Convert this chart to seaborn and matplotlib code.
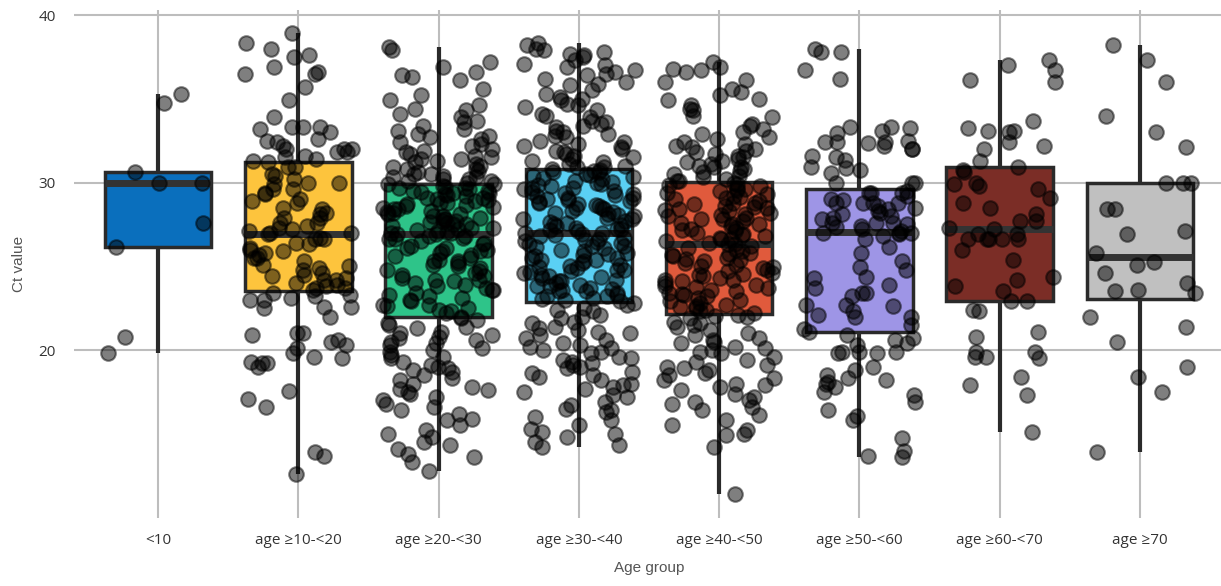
import numpy as np
import pandas as pd
import matplotlib
matplotlib.use("Agg")
import matplotlib.pyplot as plt
import seaborn as sns

categories = ["<10", "age ≥10-<20", "age ≥20-<30", "age ≥30-<40",
              "age ≥40-<50", "age ≥50-<60", "age ≥60-<70", "age ≥70"]

box_colors = ["#0a6fbd", "#fdc43d", "#2ec489", "#5ad0f4",
              "#e05a3c", "#9e95e6", "#7b2d26", "#c0c0c0"]

ct_lt10 = [34.75, 35.3, 30.6, 30.0, 30.0, 27.6, 26.15, 20.8, 19.8]

ct_10_20 = [38.9, 38.3, 37.5, 36.5, 36.9, 36.6, 37.6, 36.5, 35.7, 38.0,
            34.9, 33.9, 33.3, 33.3, 33.2, 33.3, 33.0, 32.4, 32.5, 32.0,
            31.8, 32.0, 32.6, 32.0, 31.8, 31.5, 31.3, 31.4, 31.6, 32.2,
            31.2, 30.9, 30.9, 30.5, 30.4, 30.2, 30.0, 30.0, 29.9, 29.6,
            29.6, 29.4, 29.3, 29.0, 28.9, 28.8, 28.5, 28.4, 28.2, 28.1,
            27.9, 27.9, 27.6, 27.6, 27.4, 27.3, 27.2, 27.1, 27.0, 27.0,
            26.9, 26.7, 26.6, 26.6, 26.4, 26.3, 26.1, 26.0, 25.8, 25.7,
            25.5, 25.5, 25.3, 25.1, 25.0, 24.9, 24.8, 24.6, 24.4, 24.3,
            24.2, 24.2, 24.0, 23.9, 23.8, 23.7, 23.7, 23.6, 25.9, 24.5,
            22.5, 23.0, 22.55, 22.0, 22.55, 20.6, 21.0, 20.9, 21.0, 20.3,
            20.5, 20.1, 19.8, 19.2, 19.2, 19.3, 19.5, 19.6, 19.0, 17.55,
            17.1, 16.6, 13.7, 13.9, 12.6, 23.4, 23.2, 23.3, 23.1, 23.0]

ct_20_30 = [38.1, 37.9, 37.2, 36.9, 36.6, 36.4, 36.3, 36.1, 35.6, 35.2,
            34.9, 34.6, 34.4, 34.3, 34.1, 33.9, 33.7, 33.6, 33.4, 33.2,
            33.1, 32.9, 32.7, 32.6, 32.4, 32.3, 32.2, 32.0, 31.9, 31.8,
            31.7, 31.6, 31.5, 31.4, 31.3, 31.2, 31.1, 31.0, 30.9, 30.8,
            30.8, 30.7, 30.6, 30.5, 30.5, 30.4, 30.3, 30.3, 30.2, 30.2,
            30.1, 30.1, 30.0, 31.4, 32.8,
            21.9, 21.8, 21.6, 21.5, 21.4, 21.3, 21.1, 21.0, 20.9, 20.8,
            20.6, 20.5, 20.4, 20.3, 20.1, 20.0, 19.9, 19.7, 19.6, 19.5,
            19.3, 19.1, 19.0, 18.9, 18.7, 18.5, 18.3, 18.2, 18.0, 17.8,
            17.7, 17.5, 17.4, 17.2, 17.0, 16.8, 16.6, 16.4, 16.2, 15.9,
            15.8, 15.5, 15.2, 15.0, 14.8, 14.5, 14.3, 14.1, 13.8, 13.6,
            13.3, 12.8, 17.6, 18.8, 20.7,
            22.0, 22.2, 22.3, 22.6, 22.7, 22.7, 23.0, 23.1, 23.3, 23.4,
            23.6, 23.6, 23.8, 23.9, 24.1, 24.2, 24.2, 24.5, 24.6, 24.8,
            24.9, 25.0, 25.1, 25.3, 25.3, 25.5, 25.6, 25.8, 25.9, 26.0,
            26.1, 26.2, 26.4, 26.5, 26.6, 26.7, 26.8, 26.8, 26.9, 22.4,
            23.2, 24.0, 24.4, 25.2, 25.7, 26.3, 22.9, 23.7, 24.7, 25.4,
            26.1, 26.6, 22.5, 24.3, 25.9,
            26.9, 27.0, 27.0, 27.1, 27.2, 27.3, 27.3, 27.4, 27.5, 27.6,
            27.7, 27.7, 27.8, 27.9, 28.0, 28.0, 28.1, 28.2, 28.3, 28.4,
            28.4, 28.5, 28.6, 28.7, 28.8, 28.8, 28.9, 29.0, 29.1, 29.1,
            29.2, 29.3, 29.4, 29.5, 29.5, 29.6, 29.7, 29.8, 29.9, 29.9,
            27.15, 27.55, 28.25, 28.65, 29.25, 29.65, 27.85, 28.95, 29.45, 27.05,
            28.15, 29.75, 27.65, 28.55, 29.35]

ct_30_40 = [38.3, 38.2, 38.0, 37.9, 37.8, 37.6, 37.5, 37.3, 37.1, 36.9,
            36.7, 36.6, 36.4, 36.2, 36.0, 35.8, 35.5, 35.3, 35.1, 34.9,
            34.7, 34.5, 34.3, 34.1, 33.9, 33.7, 33.5, 33.3, 33.1, 32.9,
            32.7, 32.5, 32.4, 32.2, 32.0, 31.9, 31.7, 31.5, 31.4, 31.2,
            31.1, 31.0, 30.9, 30.9, 31.3, 31.8, 32.3, 32.8, 33.4, 34.0,
            34.6, 35.0, 35.9, 36.5, 37.0, 37.7, 31.6, 32.1, 33.0, 33.6,
            22.8, 22.7, 22.5, 22.4, 22.3, 22.1, 22.0, 21.9, 21.7, 21.6,
            21.4, 21.3, 21.1, 21.0, 20.9, 20.7, 20.6, 20.4, 20.3, 20.2,
            20.0, 19.9, 19.8, 19.6, 19.5, 19.4, 19.2, 19.1, 19.0, 18.9,
            18.7, 18.5, 18.4, 18.2, 18.0, 17.9, 17.7, 17.5, 17.3, 17.2,
            16.9, 16.7, 16.5, 16.3, 16.0, 15.8, 15.5, 15.3, 15.0, 14.8,
            14.5, 14.2, 14.3, 15.1, 16.4, 17.8, 18.6, 19.3, 20.1, 21.2,
            22.9, 23.0, 23.1, 23.2, 23.3, 23.4, 23.5, 23.5, 23.6, 23.7,
            23.8, 23.9, 24.0, 24.1, 24.1, 24.2, 24.3, 24.4, 24.5, 24.6,
            24.7, 24.8, 24.8, 24.9, 25.0, 25.1, 25.2, 25.3, 25.4, 25.5,
            25.5, 25.6, 25.7, 25.8, 25.9, 26.0, 26.1, 26.2, 26.2, 26.3,
            26.4, 26.5, 26.6, 26.7, 26.8, 26.9, 27.0, 23.05, 23.85, 24.65,
            25.35, 26.15, 26.85, 23.25, 24.35, 25.75, 26.45, 23.65, 24.95, 26.55,
            27.0, 27.1, 27.2, 27.3, 27.4, 27.5, 27.6, 27.7, 27.8, 27.9,
            28.0, 28.1, 28.2, 28.3, 28.4, 28.5, 28.6, 28.7, 28.8, 28.9,
            29.0, 29.1, 29.2, 29.3, 29.4, 29.5, 29.6, 29.7, 29.8, 29.9,
            30.0, 30.1, 30.2, 30.3, 30.4, 30.5, 30.6, 30.7, 30.8, 27.25,
            27.65, 28.05, 28.45, 28.85, 29.25, 29.65, 30.05, 30.45, 27.45, 28.25,
            29.05, 29.85, 30.65, 27.85, 28.65, 29.45, 30.25, 27.15, 28.95, 30.75]

ct_40_50 = [37.2, 36.9, 36.8, 36.7, 36.6, 36.1, 36.0, 35.6, 35.4, 35.2,
            34.9, 34.6, 34.4, 34.3, 34.0, 33.9, 33.5, 33.2, 33.0, 32.9,
            32.7, 32.6, 32.4, 32.3, 32.1, 32.0, 31.9, 31.8, 31.7, 31.5,
            31.4, 31.3, 31.2, 31.0, 30.9, 30.9, 30.8, 30.7, 30.6, 30.5,
            30.4, 30.3, 30.2, 30.1, 30.1, 31.1, 31.6, 32.2, 33.4, 35.0,
            22.1, 22.0, 21.9, 21.7, 21.6, 21.4, 21.2, 21.0, 20.9, 20.7,
            20.5, 20.4, 20.2, 20.0, 19.9, 19.8, 19.6, 19.4, 19.3, 19.1,
            18.9, 18.8, 18.6, 18.3, 18.2, 18.0, 17.8, 17.6, 17.4, 17.2,
            17.0, 16.8, 16.6, 16.4, 16.1, 15.8, 15.5, 15.2, 14.9, 14.2,
            11.4, 20.6, 19.0, 17.9, 16.9, 21.5, 18.5, 15.0, 20.1, 22.05,
            22.2, 22.3, 22.4, 22.5, 22.6, 22.7, 22.8, 22.9, 23.0, 23.1,
            23.2, 23.3, 23.4, 23.5, 23.6, 23.7, 23.8, 23.9, 24.0, 24.1,
            24.2, 24.3, 24.4, 24.5, 24.6, 24.7, 24.8, 24.9, 25.0, 25.1,
            25.2, 25.3, 25.4, 25.5, 25.6, 25.7, 25.8, 25.9, 26.0, 26.1,
            26.2, 26.3, 22.55, 23.35, 24.15, 24.95, 25.75, 23.75, 24.55, 25.45,
            26.3, 26.4, 26.5, 26.6, 26.7, 26.8, 26.9, 27.0, 27.1, 27.2,
            27.3, 27.4, 27.5, 27.6, 27.7, 27.8, 27.9, 28.0, 28.1, 28.2,
            28.3, 28.4, 28.5, 28.6, 28.7, 28.8, 28.9, 29.0, 29.1, 29.2,
            29.3, 29.4, 29.5, 29.6, 29.7, 29.8, 29.9, 30.0, 26.65, 27.15,
            27.55, 28.05, 28.35, 28.75, 29.15, 29.55, 29.85, 26.85, 27.85, 28.55]

ct_50_60 = [37.8, 37.8, 38.0, 36.7, 36.2, 33.1, 33.3, 32.95, 32.5, 32.4,
            32.0, 32.4, 32.4, 32.0, 31.6, 33.3, 33.25, 32.2, 32.35, 31.35,
            31.5, 30.9, 30.85, 30.75, 30.55, 30.0, 30.0, 30.0, 29.4, 29.4,
            29.4, 28.95, 28.8, 28.8, 28.8, 28.4, 28.8, 28.2, 27.9, 27.6,
            27.6, 27.6, 28.1, 27.0, 27.0, 26.8, 26.9, 27.1, 27.2, 26.6,
            27.35, 27.0, 26.15, 25.8, 24.95, 24.8, 24.35, 24.3, 23.7, 23.9,
            23.4, 23.4, 23.2, 22.7, 22.6, 22.7, 22.0, 22.3, 22.1, 22.0,
            21.5, 21.25, 21.1, 20.9, 20.7, 20.3, 20.4, 19.9, 19.9, 19.9,
            19.8, 19.8, 18.8, 19.0, 18.3, 18.0, 18.1, 18.2, 18.5, 17.5,
            17.8, 17.3, 16.9, 16.05, 16.4, 15.8, 14.75, 13.7, 14.0, 13.6,
            20.6, 25.3, 27.4, 27.8, 28.0, 28.5, 28.6, 29.0, 29.2, 29.5,
            27.5, 28.3]

ct_60_70 = [37.3, 36.1, 37.0, 36.7, 36.0, 33.7, 33.0, 33.1, 33.1, 33.25,
            32.2, 32.4, 32.0, 31.3, 30.75, 30.6, 30.9, 30.0, 29.8, 29.6,
            29.9, 29.1, 28.5, 28.1, 27.7, 27.7, 27.3, 26.9, 27.2, 26.9,
            26.6, 26.6, 26.6, 26.6, 26.6, 26.0, 25.4, 24.35, 23.8, 24.2,
            22.9, 22.9, 22.3, 22.4, 20.8, 21.1, 19.5, 19.9, 19.6, 19.6,
            19.9, 18.4, 17.9, 17.3, 15.1, 23.5, 28.8]

ct_70 = [38.2, 37.3, 36.0, 34.0, 33.0, 32.1, 30.0, 30.0, 30.0, 28.4,
         28.4, 27.1, 26.9, 25.8, 25.25, 25.1, 24.6, 24.0, 23.6, 23.4,
         23.5, 22.0, 21.4, 20.5, 19.0, 18.4, 17.5, 13.9]

groups = [ct_lt10, ct_10_20, ct_20_30, ct_30_40, ct_40_50, ct_50_60, ct_60_70, ct_70]
y_ticks = [20, 30, 40]

df = pd.DataFrame({
    "Age group": np.concatenate([[c] * len(g) for c, g in zip(categories, groups)]),
    "Ct value": np.concatenate(groups),
})

sns.set_style("white")
plt.rcParams["font.family"] = ["Open Sans", "DejaVu Sans"]

fig = plt.figure(figsize=(12.21, 5.86), dpi=100)
ax = fig.add_axes([74 / 1221, 68 / 586, 1150 / 1221, 508 / 586])

grid_kw = dict(color="#bdbdbd", linewidth=1.5, zorder=0)
sns.boxplot(data=df, x="Age group", y="Ct value", hue="Age group",
            order=categories, hue_order=categories, palette=box_colors,
            saturation=1, width=0.76, linewidth=2.5, linecolor="#2a2a2a",
            showfliers=False, showcaps=False,
            whiskerprops=dict(linewidth=3.0, color="#2a2a2a"),
            medianprops=dict(linewidth=5.0, color="#333333"),
            legend=False, ax=ax)

np.random.seed(3)
sns.stripplot(data=df, x="Age group", y="Ct value", order=categories,
              color="black", alpha=0.5, size=10.5, linewidth=1.5,
              edgecolor="black", jitter=0.4, ax=ax, zorder=5)

ax.set_xlim(-0.6, 7.6)
ax.set_ylim(9.97, 40.3)
ax.set_yticks(y_ticks)
ax.set_yticklabels([str(t) for t in y_ticks])
ax.grid(True, **grid_kw)
ax.set_axisbelow(True)
for s in ax.spines.values():
    s.set_visible(False)

ax.tick_params(axis="x", length=0, pad=11, labelsize=11, labelcolor="#333333")
ax.tick_params(axis="y", length=0, pad=13, labelsize=11, labelcolor="#333333")

ax.set_xlabel("Age group", fontsize=11, color="#555555", family="Liberation Sans")
ax.set_ylabel("Ct value", fontsize=11, color="#555555", family="Liberation Sans")
ax.xaxis.set_label_coords(0.5, -0.085)
ax.yaxis.set_label_coords(-0.042, 0.5)

fig.savefig("out.png", dpi=100)
